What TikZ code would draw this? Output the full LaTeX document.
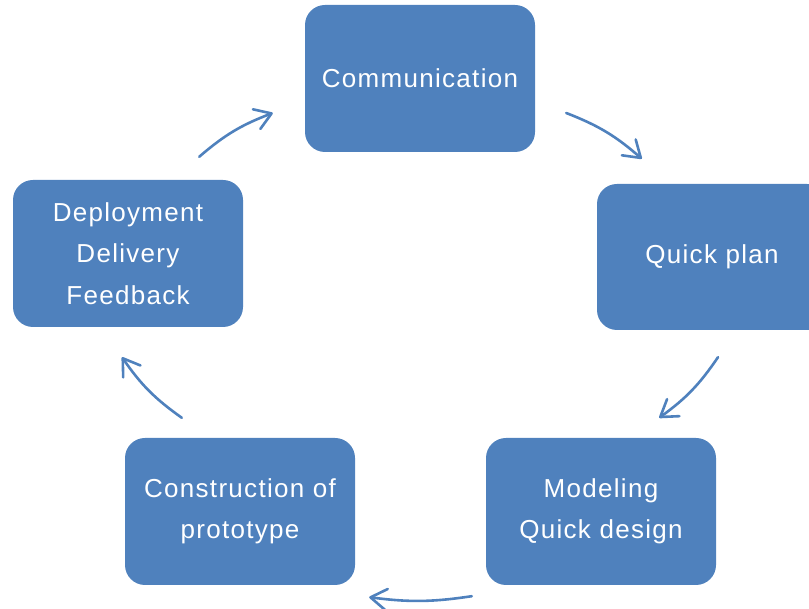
\documentclass[tikz,border=0pt]{standalone}
\usepackage{fontspec}
\usepackage{tikz}
\usetikzlibrary{arrows.meta}
\newfontfamily\boxfont[LetterSpace=5]{Liberation Sans}
\definecolor{officeblue}{HTML}{4F81BD}

\begin{document}
\begin{tikzpicture}[x=1pt,y=1pt]

		\tikzstyle{phase}=[fill=officeblue, rounded corners=20pt, minimum width=230pt, minimum height=147pt, inner sep=0pt, align=center, text=white, font=\boxfont\fontsize{26}{41.5}\selectfont]
		\tikzstyle{cyc}=[officeblue, line width=2.6pt, line cap=round, -{Straight Barb[length=16pt,width=21pt,line width=2.6pt,round]}]

		\useasboundingbox (0,0) rectangle (809,609);
		\clip (0,0) rectangle (809,609);

		% the five phases
		\node[phase] (comm) at (420,530.5) {Communication};
		\node[phase, minimum height=146pt] (plan) at (712,352) {Quick plan};
		\node[phase] (model) at (601,97.5) {Modeling\\Quick design};
		\node[phase] (proto) at (240,97.5) {Construction of\\prototype};
		\node[phase] (deploy) at (128,355.5) {Deployment\\Delivery\\Feedback};

		% arrows round the cycle
		\draw[cyc] ([shift={(-44,23)}]deploy.north east) to[bend left=10] ([shift={(-32,-34.5)}]comm.west);
		\draw[cyc] ([shift={(31,-34.5)}]comm.east) to[bend left=10] ([shift={(45,25)}]plan.north west);
		\draw[cyc] ([shift={(6,-27)}]plan.south) to[bend left=10] ([shift={(-57,20)}]model.north east);
		\draw[cyc] ([shift={(-14,-11)}]model.south west) to[bend left=8] ([shift={(14,-12)}]proto.south east);
		\draw[cyc] ([shift={(57,20)}]proto.north west) to[bend left=10] ([shift={(-6,-30)}]deploy.south);

\end{tikzpicture}
\end{document}
